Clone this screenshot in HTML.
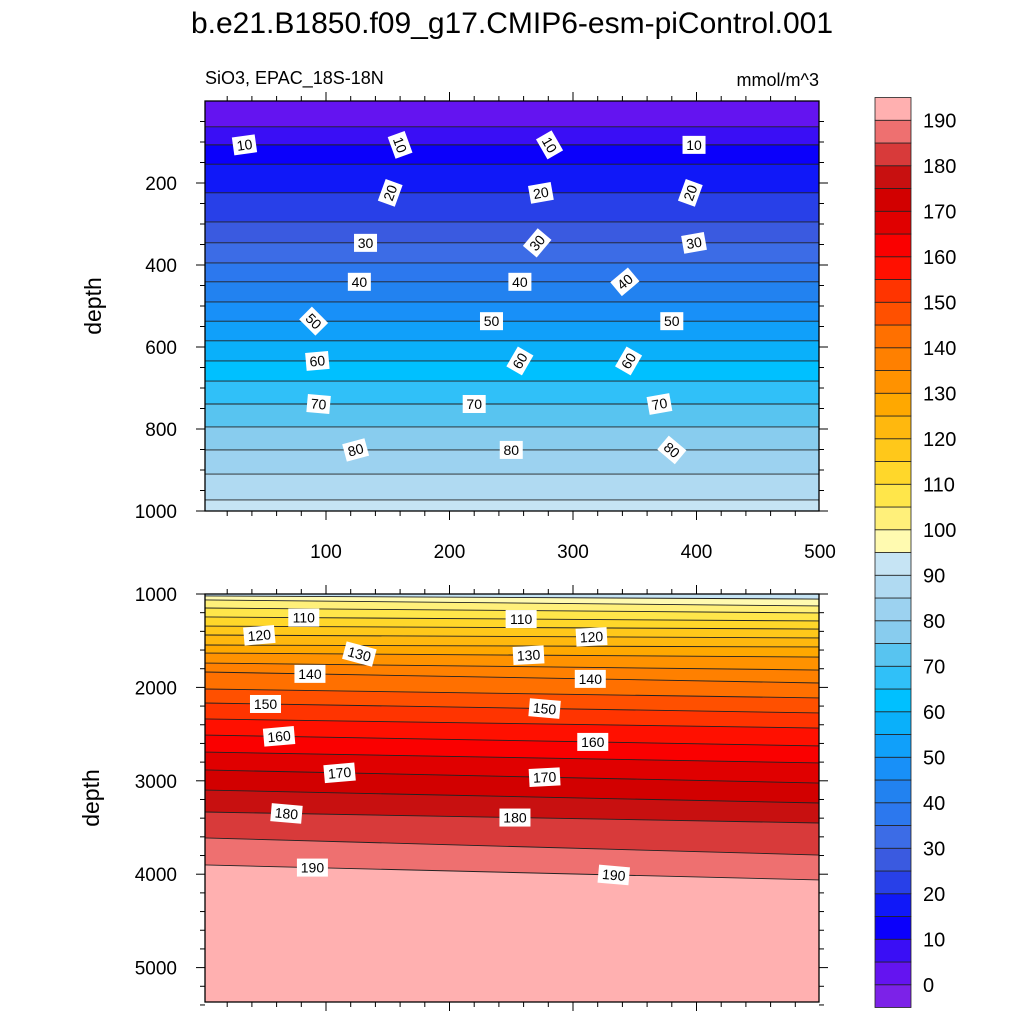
<!DOCTYPE html>
<html><head><meta charset="utf-8">
<style>
html,body{margin:0;padding:0;background:#fff;width:1024px;height:1024px;overflow:hidden;}
svg{display:block;font-family:"Liberation Sans",sans-serif;}
</style></head>
<body>
<svg id="chart" width="1024" height="1024" viewBox="0 0 1024 1024">
<text x="512" y="33" font-size="30" text-anchor="middle">b.e21.B1850.f09_g17.CMIP6-esm-piControl.001</text>
<text x="205" y="84" font-size="18">SiO3, EPAC_18S-18N</text>
<text x="819" y="86" font-size="18" text-anchor="end">mmol/m^3</text>
<text transform="translate(101,306) rotate(-90)" font-size="23" text-anchor="middle">depth</text>
<text transform="translate(99,798) rotate(-90)" font-size="23" text-anchor="middle">depth</text>
<defs>
<clipPath id="clipTop"><rect x="205" y="101" width="614" height="410"/></clipPath>
<clipPath id="clipBot"><rect x="205" y="594" width="614" height="408"/></clipPath>
</defs>
<g id="gTop" clip-path="url(#clipTop)"></g>
<g id="gBot" clip-path="url(#clipBot)"></g>
<g id="gAxes"></g>
<g id="gLabels"></g>
<g id="gBar"></g>
</svg>
<script>
// contour levels (mmol/m^3) and depth (m) of each contour at west (x=2) and east (x=500) edges
const levels = [5,10,15,20,25,30,35,40,45,50,55,60,65,70,75,80,85,90,95,100,105,110,115,120,125,130,135,140,145,150,155,160,165,170,175,180,185,190];
const depthWest = [63,107,154,224,295,346,395,441,490,537,585,634,683,739,795,851,910,973,1021,1064,1150,1246,1343,1439,1546,1632,1739,1835,2017,2167,2338,2510,2692,2884,3099,3334,3612,3901];
const depthEast = [63,107,154,224,295,346,395,441,490,537,585,634,683,739,795,851,910,973,1054,1128,1203,1289,1375,1471,1567,1675,1814,1953,2113,2274,2435,2627,2809,3024,3238,3452,3795,4062];
// colorbar: band colors from below 0 up to above 190
const bandColors = ["#7c22e8","#6414f0","#3a0ef5","#0b00fb","#1018f8","#2840e8","#3a5ae0","#3c6ce6","#2c78ee","#2282f0","#1890f8","#10a0fa","#0ab0fa","#00c0ff","#30c0f8","#58c4f0","#88ccee","#9cd2f0","#b0daf2","#c6e4f4","#fffab0","#fff07a","#ffe64a","#ffd72a","#ffc81a","#ffb80e","#ffa800","#ff9200","#ff8000","#ff7000","#ff5000","#ff3400","#ff1000","#fa0000","#e00000","#d20000","#c81010","#d83a3a","#ee7070","#ffb0b0"];
const barTicks = [0,10,20,30,40,50,60,70,80,90,100,110,120,130,140,150,160,170,180,190];
const topYTicks = [200,400,600,800,1000];
const botYTicks = [1000,2000,3000,4000,5000];
const xTicks = [100,200,300,400,500];
// contour label placements: [level, x]
const labelLevels = [10,10,10,10,20,20,20,30,30,30,40,40,40,50,50,50,60,60,60,70,70,70,80,80,80,110,110,120,120,130,130,140,140,150,150,160,160,170,170,180,180,190,190];
const labelX = [34,160,281,398,152,274,395,132,271,398,127,257,342,90,234,380,93,257,345,94,220,370,124,250,380,82,258,46,315,127,264,87,314,51,277,62,316,111,277,68,253,89,333];
const labelRot = [-8,70,60,0,-70,-10,-70,0,-50,-10,0,0,-40,45,0,0,-5,-60,-60,5,0,-10,-15,0,40,0,0,-5,-3,15,-3,0,0,0,5,-5,0,-5,-3,5,0,0,5];

const NS="http://www.w3.org/2000/svg";
function mk(tag,attrs,parent){const e=document.createElementNS(NS,tag);for(const k in attrs)e.setAttribute(k,attrs[k]);parent.appendChild(e);return e;}
const xpx = v => 202.5 + 1.235*v;
const yTop = d => 101 + 0.41*d;
const yBot = d => 594 + 0.0934*(d-1000);
function depthAt(i,x){return depthWest[i] + (depthEast[i]-depthWest[i])*(x-2)/498;}
function colorAbove(lev){return bandColors[lev/5+1];}
const X0=205,X1=819;
const xv0=(X0-202.5)/1.235, xv1=(X1-202.5)/1.235;

function clampY(y,top,bot){return Math.max(top-2,Math.min(bot+2,y));}
function drawPanel(g,ysc,topY,bottomY,startColor){
  const bg=mk('rect',{x:X0,y:topY,width:614,height:bottomY-topY,fill:startColor},g);
  
  
  levels.forEach((lev,i)=>{
    const yl=clampY(ysc(depthAt(i,xv0)),topY,bottomY), yr=clampY(ysc(depthAt(i,xv1)),topY,bottomY);
    const p=mk('polygon',{points:`${X0},${yl} ${X1},${yr} ${X1},${bottomY} ${X0},${bottomY}`,fill:colorAbove(lev)},g);
    
    
  });
  levels.forEach((lev,i)=>{
    const yl=ysc(depthAt(i,xv0)), yr=ysc(depthAt(i,xv1));
    if((yl<topY&&yr<topY)||(yl>bottomY&&yr>bottomY)) return;
    const l=mk('line',{x1:X0,y1:yl,x2:X1,y2:yr,stroke:'#222','stroke-width':0.9},g);
    
    
  });
}
drawPanel(document.getElementById('gTop'),yTop,101,511,bandColors[1]);
drawPanel(document.getElementById('gBot'),yBot,594,1002,bandColors[19]);

// axes
const ga=document.getElementById('gAxes');
function frame(y0,y1,name){
  const r=mk('rect',{x:X0,y:y0,width:614,height:y1-y0,fill:'none',stroke:'#000','stroke-width':1.3},ga);
  
  
  for(let v=0;v<=500;v+=20){
    const x=xpx(v); if(x<X0-0.5||x>X1+0.5) continue;
    const len=(v%100===0)?9:5;
    mk('line',{x1:x,y1:y0,x2:x,y2:y0-len,stroke:'#000','stroke-width':1},ga);
    mk('line',{x1:x,y1:y1,x2:x,y2:Math.min(1023,y1+len),stroke:'#000','stroke-width':1},ga);
  }
}
frame(101,511,'top-plot-frame');
frame(594,1002,'bottom-plot-frame');
for(let d=50;d<=1000;d+=50){
  const y=yTop(d),len=(d%200===0)?9:5;
  mk('line',{x1:X0,y1:y,x2:X0-len,y2:y,stroke:'#000'},ga);
  mk('line',{x1:X1,y1:y,x2:X1+len,y2:y,stroke:'#000'},ga);
}
for(let d=1000;d<=5400;d+=200){
  const y=yBot(d),len=(d%1000===0)?9:5;
  mk('line',{x1:X0,y1:y,x2:X0-len,y2:y,stroke:'#000'},ga);
  mk('line',{x1:X1,y1:y,x2:X1+len,y2:y,stroke:'#000'},ga);
}
topYTicks.forEach(d=>{
  const t=mk('text',{x:177,y:yTop(d)+7,'font-size':19,'text-anchor':'end'},ga);
  t.textContent=d;
  
  
});
botYTicks.forEach(d=>{
  const t=mk('text',{x:177,y:yBot(d)+7,'font-size':19,'text-anchor':'end'},ga);
  t.textContent=d;
  
  
});
xTicks.forEach(v=>{
  const t=mk('text',{x:xpx(v),y:558,'font-size':19,'text-anchor':'middle'},ga);
  t.textContent=v;
  
  
});

// contour labels
const gl=document.getElementById('gLabels');
labelLevels.forEach((lev,k)=>{
  const i=levels.indexOf(lev), x=labelX[k], d=depthAt(i,x);
  const px=xpx(x), py=d<=1000?yTop(d):yBot(d);
  const g=mk('g',{transform:`translate(${px},${py}) rotate(${labelRot[k]})`},gl);
  
  
  const w=lev>=100?31:23;
  mk('rect',{x:-w/2,y:-9,width:w,height:18,fill:'#fff'},g);
  const t=mk('text',{x:0,y:5,'font-size':14,'text-anchor':'middle'},g);
  t.textContent=lev;
});

// colorbar
const gb=document.getElementById('gBar');
const BT=97.5,BB=1007.5,BH=(BB-BT)/bandColors.length;
bandColors.forEach((c,j)=>{
  const y=BB-(j+1)*BH;
  const r=mk('rect',{x:875,y:y,width:36,height:BH,fill:c,stroke:'#222','stroke-width':0.8},gb);
  
  
});
barTicks.forEach(v=>{
  const y=BB-(v/5+1)*BH;
  const t=mk('text',{x:923,y:y+7,'font-size':20},gb);
  t.textContent=v;
  
  
});
</script>
</body></html>
